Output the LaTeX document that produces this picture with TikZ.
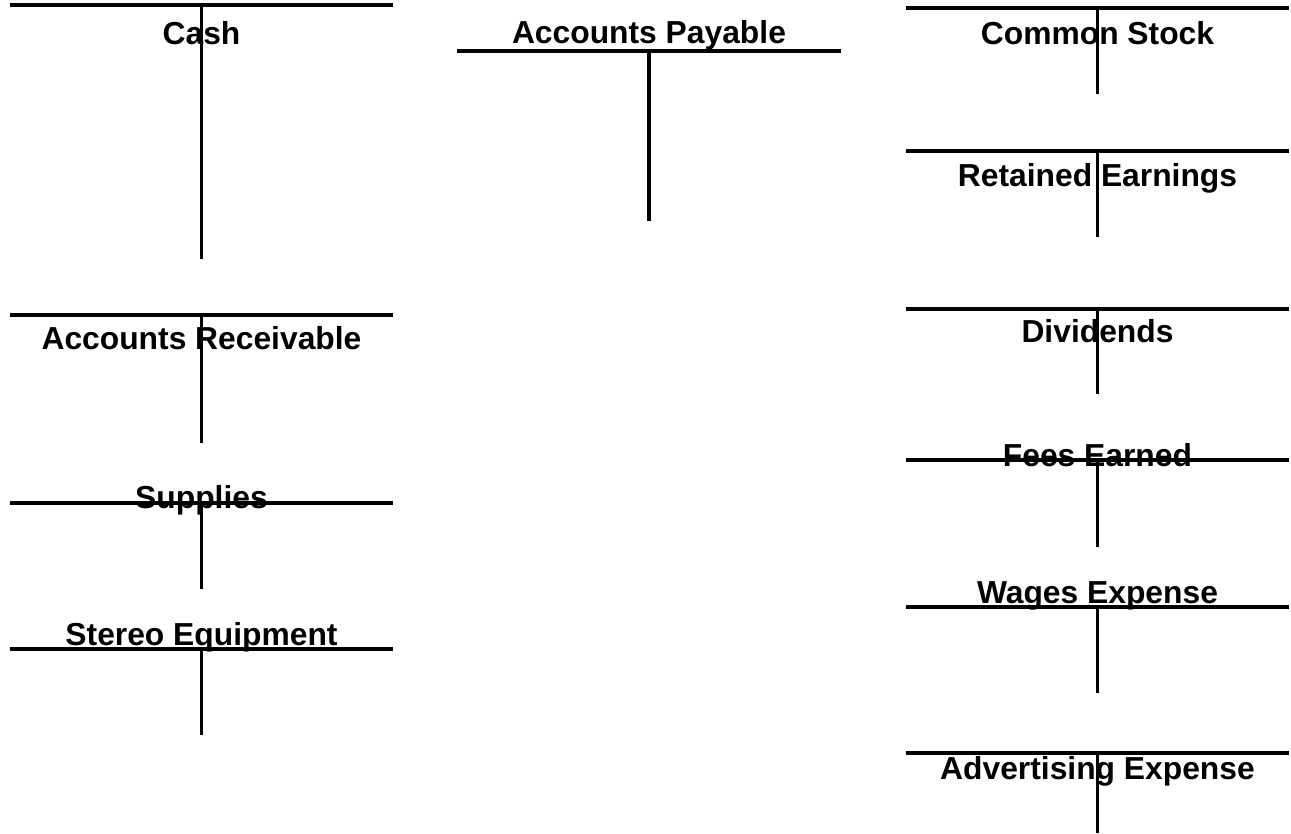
\documentclass[tikz,border=0pt]{standalone}
\usepackage{fontspec}
\setmainfont{Liberation Sans}
\begin{document}
\begin{tikzpicture}[x=1pt,y=-1pt,line width=3.3pt,
    every node/.style={font=\bfseries\fontsize{31.8}{38}\selectfont,inner sep=0pt,anchor=base}]
      \useasboundingbox (0,0) rectangle (1291,834);
      \draw
        (201.5,45) node (cash){Cash}
        (201.5,349) node (recv){Accounts Receivable}
        (201.5,508) node (supp){Supplies}
        (201.5,645) node (equip){Stereo Equipment}
        (649,44) node (pay){Accounts Payable}
        (1097.5,45) node (stock){Common Stock}
        (1097.5,187) node (earn){Retained Earnings}
        (1097.5,343) node (divd){Dividends}
        (1097.5,466) node (fees){Fees Earned}
        (1097.5,603) node (wage){Wages Expense}
        (1097.5,779) node (advt){Advertising Expense};
      \coordinate (cashL) at (10,5);   \coordinate (cashR) at (393,5);   \coordinate (cashB) at (201.5,259);
      \coordinate (recvL) at (10,315); \coordinate (recvR) at (393,315); \coordinate (recvB) at (201.5,443);
      \coordinate (suppL) at (10,503); \coordinate (suppR) at (393,503); \coordinate (suppB) at (201.5,589);
      \coordinate (equipL) at (10,649); \coordinate (equipR) at (393,649); \coordinate (equipB) at (201.5,735);
      \coordinate (payL) at (457,51);  \coordinate (payR) at (841,51);  \coordinate (payB) at (649,221);
      \coordinate (stockL) at (906,8);  \coordinate (stockR) at (1289,8);  \coordinate (stockB) at (1097.5,94);
      \coordinate (earnL) at (906,151); \coordinate (earnR) at (1289,151); \coordinate (earnB) at (1097.5,237);
      \coordinate (divdL) at (906,309); \coordinate (divdR) at (1289,309); \coordinate (divdB) at (1097.5,394);
      \coordinate (feesL) at (906,460); \coordinate (feesR) at (1289,460); \coordinate (feesB) at (1097.5,547);
      \coordinate (wageL) at (906,607); \coordinate (wageR) at (1289,607); \coordinate (wageB) at (1097.5,693);
      \coordinate (advtL) at (906,753); \coordinate (advtR) at (1289,753); \coordinate (advtB) at (1097.5,833);
      \begin{scope}[-]
        \draw (cashL) to (cashR);   \draw (cashB) to (cashB |- cashL);
        \draw (recvL) to (recvR);   \draw (recvB) to (recvB |- recvL);
        \draw (suppL) to (suppR);   \draw (suppB) to (suppB |- suppL);
        \draw (equipL) to (equipR); \draw (equipB) to (equipB |- equipL);
        \draw (payL) to (payR);     \draw (payB) to (payB |- payL);
        \draw (stockL) to (stockR); \draw (stockB) to (stockB |- stockL);
        \draw (earnL) to (earnR);   \draw (earnB) to (earnB |- earnL);
        \draw (divdL) to (divdR);   \draw (divdB) to (divdB |- divdL);
        \draw (feesL) to (feesR);   \draw (feesB) to (feesB |- feesL);
        \draw (wageL) to (wageR);   \draw (wageB) to (wageB |- wageL);
        \draw (advtL) to (advtR);   \draw (advtB) to (advtB |- advtL);
      \end{scope}
    \end{tikzpicture}
\end{document}
